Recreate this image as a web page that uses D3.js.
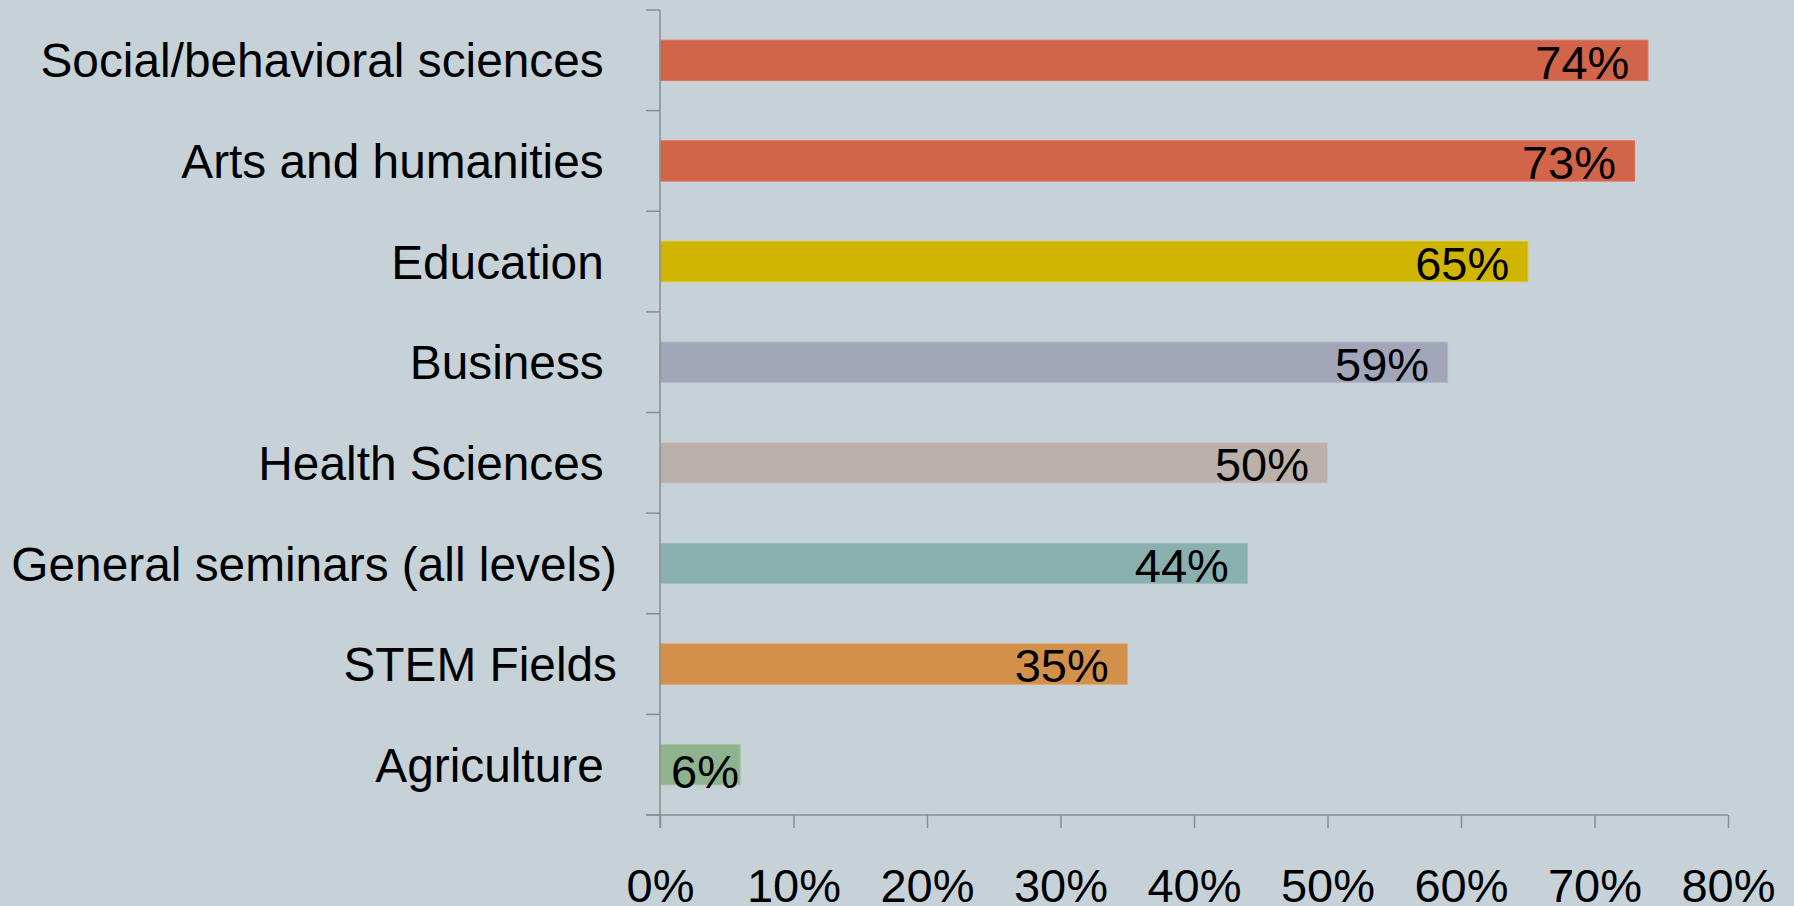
<!DOCTYPE html>
<html>
<head>
<meta charset="utf-8">
<script src="https://cdn.jsdelivr.net/npm/d3@7"></script>
<style>
  html, body { margin: 0; padding: 0; background: #c6d2d8; }
  svg { display: block; }
  text { font-family: "Liberation Sans", Arial, sans-serif; fill: #000; }
</style>
</head>
<body>
<svg id="chart" width="1794" height="906"></svg>
<script>
// categories as they appear in the sheet (most carry a trailing space)
var categories = ['Social/behavioral sciences ', 'Arts and humanities ', 'Education ', 'Business ',
    'Health Sciences ', 'General seminars (all levels)', 'STEM Fields', 'Agriculture '];
var values = [0.74, 0.73, 0.65, 0.59, 0.50, 0.44, 0.35, 0.06];
var barColors = ['#d2644a', '#d2644a', '#cfb400', '#a1a6b8', '#bbb0aa', '#8aafaf', '#d3904a', '#8fb38f'];
var xTicks = [0, 0.1, 0.2, 0.3, 0.4, 0.5, 0.6, 0.7, 0.8];

var svg = d3.select('#chart');
var axisColor = '#8c8c8c';
var fontSize = 47;
var catFontSize = 47.8;

var x = d3.scaleLinear().domain([0, 0.8]).range([660, 1728]);
var y = d3.scaleBand().domain(categories).range([10, 815]).paddingInner(0.6).paddingOuter(0.3);

// bars
svg.append('g').attr('id', 'g_bars').selectAll('rect').data(values).enter()
    .append('rect')
    .attr('x', x(0))
    .attr('y', function (d, i) { return y(categories[i]); })
    .attr('width', function (d) { return x(d) - x(0); })
    .attr('height', y.bandwidth())
    .attr('fill', function (d, i) { return barColors[i]; })
    .attr('stroke', function (d, i) { return d3.color(barColors[i]).brighter(0.25); })
    .attr('stroke-width', 1);

// value labels, inside end
var labels = svg.append('g').attr('id', 'g_values').selectAll('text').data(values).enter()
    .append('text')
    .attr('font-size', fontSize)
    .attr('text-anchor', 'end')
    .text(function (d) { return d3.format('.0%')(d); });
labels.each(function (d, i) {
    var w = this.getComputedTextLength();
    var xe = x(d) - 18.5;
    var dy = 1.5;
    if (xe - w < x(0) + 11) {
        xe = x(0) + 11 + w;
        dy = 6;
    }
    var cy = y(categories[i]) + y.bandwidth() / 2;
    d3.select(this).attr('x', xe).attr('y', cy + dy + 0.358 * fontSize);
});

// category axis
var gy = svg.append('g').attr('id', 'g_yaxis');
gy.append('line')
    .attr('x1', x(0)).attr('x2', x(0))
    .attr('y1', y.range()[0]).attr('y2', y.range()[1] + 13)
    .attr('stroke', axisColor).attr('stroke-width', 1.5);
gy.selectAll('line.tick').data(d3.range(categories.length + 1)).enter()
    .append('line').attr('class', 'tick')
    .attr('x1', x(0) - 14).attr('x2', x(0))
    .attr('y1', function (i) { return y.range()[0] + i * y.step(); })
    .attr('y2', function (i) { return y.range()[0] + i * y.step(); })
    .attr('stroke', axisColor).attr('stroke-width', 1.5);
gy.selectAll('text').data(categories).enter()
    .append('text')
    .attr('xml:space', 'preserve')
    .style('white-space', 'pre')
    .attr('font-size', catFontSize)
    .attr('text-anchor', 'end')
    .attr('x', 617)
    .attr('y', function (d) { return y(d) + y.bandwidth() / 2 + 0.358 * catFontSize; })
    .text(function (d) { return d; });

// value axis
var gx = svg.append('g').attr('id', 'g_xaxis')
    .attr('transform', 'translate(0,' + y.range()[1] + ')')
    .call(d3.axisBottom(x).tickValues(xTicks).tickSize(13).tickSizeOuter(0).tickFormat(d3.format('.0%')));
gx.select('.domain').remove();
gx.append('line')
    .attr('x1', x(0) - 14).attr('x2', x(0.8))
    .attr('y1', 0).attr('y2', 0)
    .attr('stroke', axisColor).attr('stroke-width', 1.5);
gx.selectAll('.tick line').attr('stroke', axisColor).attr('stroke-width', 1.5);
gx.selectAll('.tick text')
    .attr('font-family', '"Liberation Sans", Arial, sans-serif')
    .attr('font-size', fontSize)
    .attr('fill', '#000')
    .attr('y', 87)
    .attr('dy', 0);
</script>
</body>
</html>
